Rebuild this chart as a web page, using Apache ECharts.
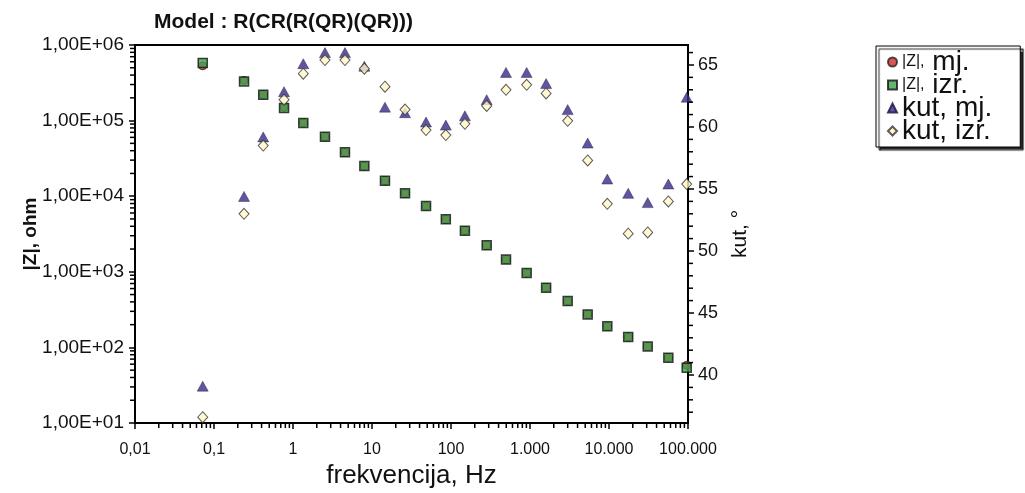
<!DOCTYPE html>
<html>
<head>
<meta charset="utf-8">
<title>Model : R(CR(R(QR)(QR)))</title>
<script src="https://cdn.jsdelivr.net/npm/echarts@6/dist/echarts.min.js"></script>
<style>
  html, body { margin: 0; padding: 0; background: #fff; }
  #main { width: 1025px; height: 493px; }
</style>
</head>
<body>
<div id="main"></div>
<script>
// frekvencija (Hz)
var freq = [0.072, 0.24, 0.42, 0.77, 1.35, 2.54, 4.55, 8.0, 14.6, 26.2, 48.3, 86,
            150, 283, 497, 907, 1600, 3000, 5370, 9520, 17500, 30900, 56400, 96300];
// |Z| mjereno / izracunato (ohm)
var zMj  = [5.3e5, 3.4e5, 2.2e5, 1.5e5, 9.4e4, 6.1e4, 3.8e4, 2.5e4, 1.6e4, 1.09e4, 7.4e3, 4.95e3,
            3.5e3, 2.24e3, 1.45e3, 964, 617, 410, 273, 190, 137, 103, 73, 58];
var zIzr = [5.8e5, 3.3e5, 2.2e5, 1.47e5, 9.3e4, 6.1e4, 3.8e4, 2.5e4, 1.6e4, 1.09e4, 7.4e3, 4.95e3,
            3.5e3, 2.24e3, 1.45e3, 964, 617, 410, 273, 190, 137, 103, 73, 54];
// kut (stupnjevi)
var kutMj  = [39.1, 54.4, 59.2, 62.85, 65.1, 66.0, 66.0, 64.9, 61.6, 61.15, 60.4, 60.15,
              60.9, 62.2, 64.4, 64.4, 63.5, 61.4, 58.7, 55.8, 54.65, 53.9, 55.4, 62.4];
var kutIzr = [36.6, 53.0, 58.5, 62.2, 64.3, 65.4, 65.4, 64.7, 63.25, 61.4, 59.75, 59.35,
              60.25, 61.7, 63.0, 63.4, 62.7, 60.5, 57.3, 53.8, 51.4, 51.5, 54.0, 55.4];

// tick labels
var xTickLabels = ['0,01', '0,1', '1', '10', '100', '1.000', '10.000', '100.000'];
var yTickLabels = ['1,00E+01', '1,00E+02', '1,00E+03', '1,00E+04', '1,00E+05', '1,00E+06'];
var kutTicks = [40, 45, 50, 55, 60, 65];

// axis ranges
var xMin = 0.01, xMax = 100000;
var zMin = 10, zMax = 1000000;
var kutMin = 36.13, kutMax = 66.61;

function pairs(xs, ys) {
  var out = [];
  for (var i = 0; i < xs.length; i++) out.push([xs[i], ys[i]]);
  return out;
}

// minor ticks 2..9 in every decade
function logMinor(from, to) {
  var v = [];
  for (var k = from; k < to; k++) {
    for (var m = 2; m <= 9; m++) v.push(m * Math.pow(10, k));
  }
  return v;
}
var kutMinor = [];
for (var a = 37; a <= 66; a++) if (a % 5 !== 0) kutMinor.push(a);

var FONT = 'Liberation Sans, Arial, sans-serif';
var black = '#000';

var myChart = echarts.init(document.getElementById('main'), null, { renderer: 'canvas' });

var option = {
  backgroundColor: '#fff',
  animation: false,
  title: {
    text: 'Model : R(CR(R(QR)(QR)))',
    left: 149,
    top: 7,
    textStyle: { fontFamily: FONT, fontSize: 21, fontWeight: 'bold', color: '#111' }
  },
  legend: {
    orient: 'vertical',
    left: 876,
    top: 46,
    padding: [2, 28, 2, 11],
    itemGap: -5,
    itemWidth: 9,
    itemHeight: 9,
    backgroundColor: '#fff',
    borderColor: '#000',
    borderWidth: 1,
    shadowColor: 'rgba(0,0,0,0.85)',
    shadowBlur: 1,
    shadowOffsetX: 3,
    shadowOffsetY: 3,
    data: [
      { name: '|Z|, mj.', icon: 'circle' },
      { name: '|Z|, izr.', icon: 'rect' },
      { name: 'kut, mj.', icon: 'triangle' },
      { name: 'kut, izr.', icon: 'diamond' }
    ],
    formatter: function (name) {
      if (name.indexOf('|Z|') === 0) {
        return '{s||Z|,}{b|' + name.substring(4) + '}';
      }
      return name;
    },
    textStyle: {
      fontFamily: FONT,
      fontSize: 28,
      color: '#111',
      rich: {
        s: { fontFamily: FONT, fontSize: 16, color: '#111' },
        b: { fontFamily: FONT, fontSize: 28, color: '#111' }
      }
    }
  },
  grid: {
    left: 135, right: 337, top: 45, bottom: 70,
    show: true, borderColor: black, borderWidth: 2,
    outerBoundsMode: 'none'
  },
  xAxis: {
    type: 'log',
    logBase: 10,
    min: xMin,
    max: xMax,
    position: 'bottom',
    name: 'frekvencija, Hz',
    nameLocation: 'middle',
    nameGap: 37,
    nameTextStyle: { fontFamily: FONT, fontSize: 26, color: '#111' },
    axisLine: { onZero: false, lineStyle: { color: black, width: 2 } },
    axisTick: { length: 6, lineStyle: { color: black, width: 1.5 } },
    axisLabel: {
      margin: 19,
      fontFamily: FONT, fontSize: 16, color: '#111',
      formatter: function (v) {
        var e = Math.round(Math.log10(v));
        return xTickLabels[e + 2] || '';
      }
    },
    splitLine: { show: false }
  },
  yAxis: [
    {
      type: 'log',
      logBase: 10,
      min: zMin,
      max: zMax,
      position: 'left',
      name: '|Z|, ohm',
      nameLocation: 'middle',
      nameGap: 95,
      nameMoveOverlap: false,
      nameTextStyle: { fontFamily: FONT, fontSize: 19, fontWeight: 'bold', color: '#111' },
      axisLine: { onZero: false, lineStyle: { color: black, width: 2 } },
      axisTick: { length: 6, lineStyle: { color: black, width: 1.5 } },
      axisLabel: {
        margin: 11,
        fontFamily: FONT, fontSize: 19, color: '#111',
        formatter: function (v) {
          var e = Math.round(Math.log10(v));
          return yTickLabels[e - 1] || '';
        }
      },
      splitLine: { show: false }
    },
    {
      type: 'value',
      min: kutMin,
      max: kutMax,
      position: 'right',
      name: 'kut, °',
      nameLocation: 'middle',
      nameGap: 42,
      nameTextStyle: { fontFamily: FONT, fontSize: 21, color: '#111' },
      axisLine: { show: true, onZero: false, lineStyle: { color: black, width: 2 } },
      axisTick: { show: true, length: 6, customValues: kutTicks, lineStyle: { color: black, width: 1.5 } },
      axisLabel: {
        margin: 10,
        customValues: kutTicks,
        fontFamily: FONT, fontSize: 18, color: '#111'
      },
      splitLine: { show: false }
    }
  ],
  series: [
    {
      name: '|Z|, mj.',
      type: 'scatter',
      xAxisIndex: 0, yAxisIndex: 0,
      symbol: 'circle',
      symbolSize: 8,
      itemStyle: { color: '#d32b2b', borderColor: '#222', borderWidth: 1 },
      data: pairs(freq, zMj),
      z: 2
    },
    {
      name: '|Z|, izr.',
      type: 'scatter',
      xAxisIndex: 0, yAxisIndex: 0,
      symbol: 'rect',
      symbolSize: 9,
      itemStyle: { color: '#3ea34e', borderColor: '#111', borderWidth: 1.5 },
      data: pairs(freq, zIzr),
      z: 3
    },
    {
      name: 'kut, mj.',
      type: 'scatter',
      xAxisIndex: 0, yAxisIndex: 1,
      symbol: 'triangle',
      symbolSize: [11, 10],
      itemStyle: { color: '#3a2a86', borderColor: '#1a1040', borderWidth: 0.5 },
      data: pairs(freq, kutMj),
      z: 4
    },
    {
      name: 'kut, izr.',
      type: 'scatter',
      xAxisIndex: 0, yAxisIndex: 1,
      symbol: 'diamond',
      symbolSize: [10, 11],
      itemStyle: { color: '#fff6c4', borderColor: '#333', borderWidth: 1 },
      data: pairs(freq, kutIzr),
      z: 5
    }
  ]
};

myChart.setOption(option);

// minor ticks: positions come from the chart's own axes (convertToPixel)
var ticks = [];
function addTick(x1, y1, x2, y2) {
  ticks.push({
    type: 'line',
    silent: true,
    z: 100,
    shape: { x1: x1, y1: y1, x2: x2, y2: y2 },
    style: { stroke: black, lineWidth: 1.5 }
  });
}
logMinor(-2, 5).forEach(function (v) {
  var p = myChart.convertToPixel({ xAxisIndex: 0, yAxisIndex: 0 }, [v, zMin]);
  addTick(p[0], p[1] + 1, p[0], p[1] + 5);
});
logMinor(1, 6).forEach(function (v) {
  var p = myChart.convertToPixel({ xAxisIndex: 0, yAxisIndex: 0 }, [xMin, v]);
  addTick(p[0] - 1, p[1], p[0] - 5, p[1]);
});
kutMinor.forEach(function (v) {
  var p = myChart.convertToPixel({ xAxisIndex: 0, yAxisIndex: 1 }, [xMax, v]);
  addTick(p[0] + 1, p[1], p[0] + 5, p[1]);
});
myChart.setOption({ graphic: ticks });
</script>
</body>
</html>
